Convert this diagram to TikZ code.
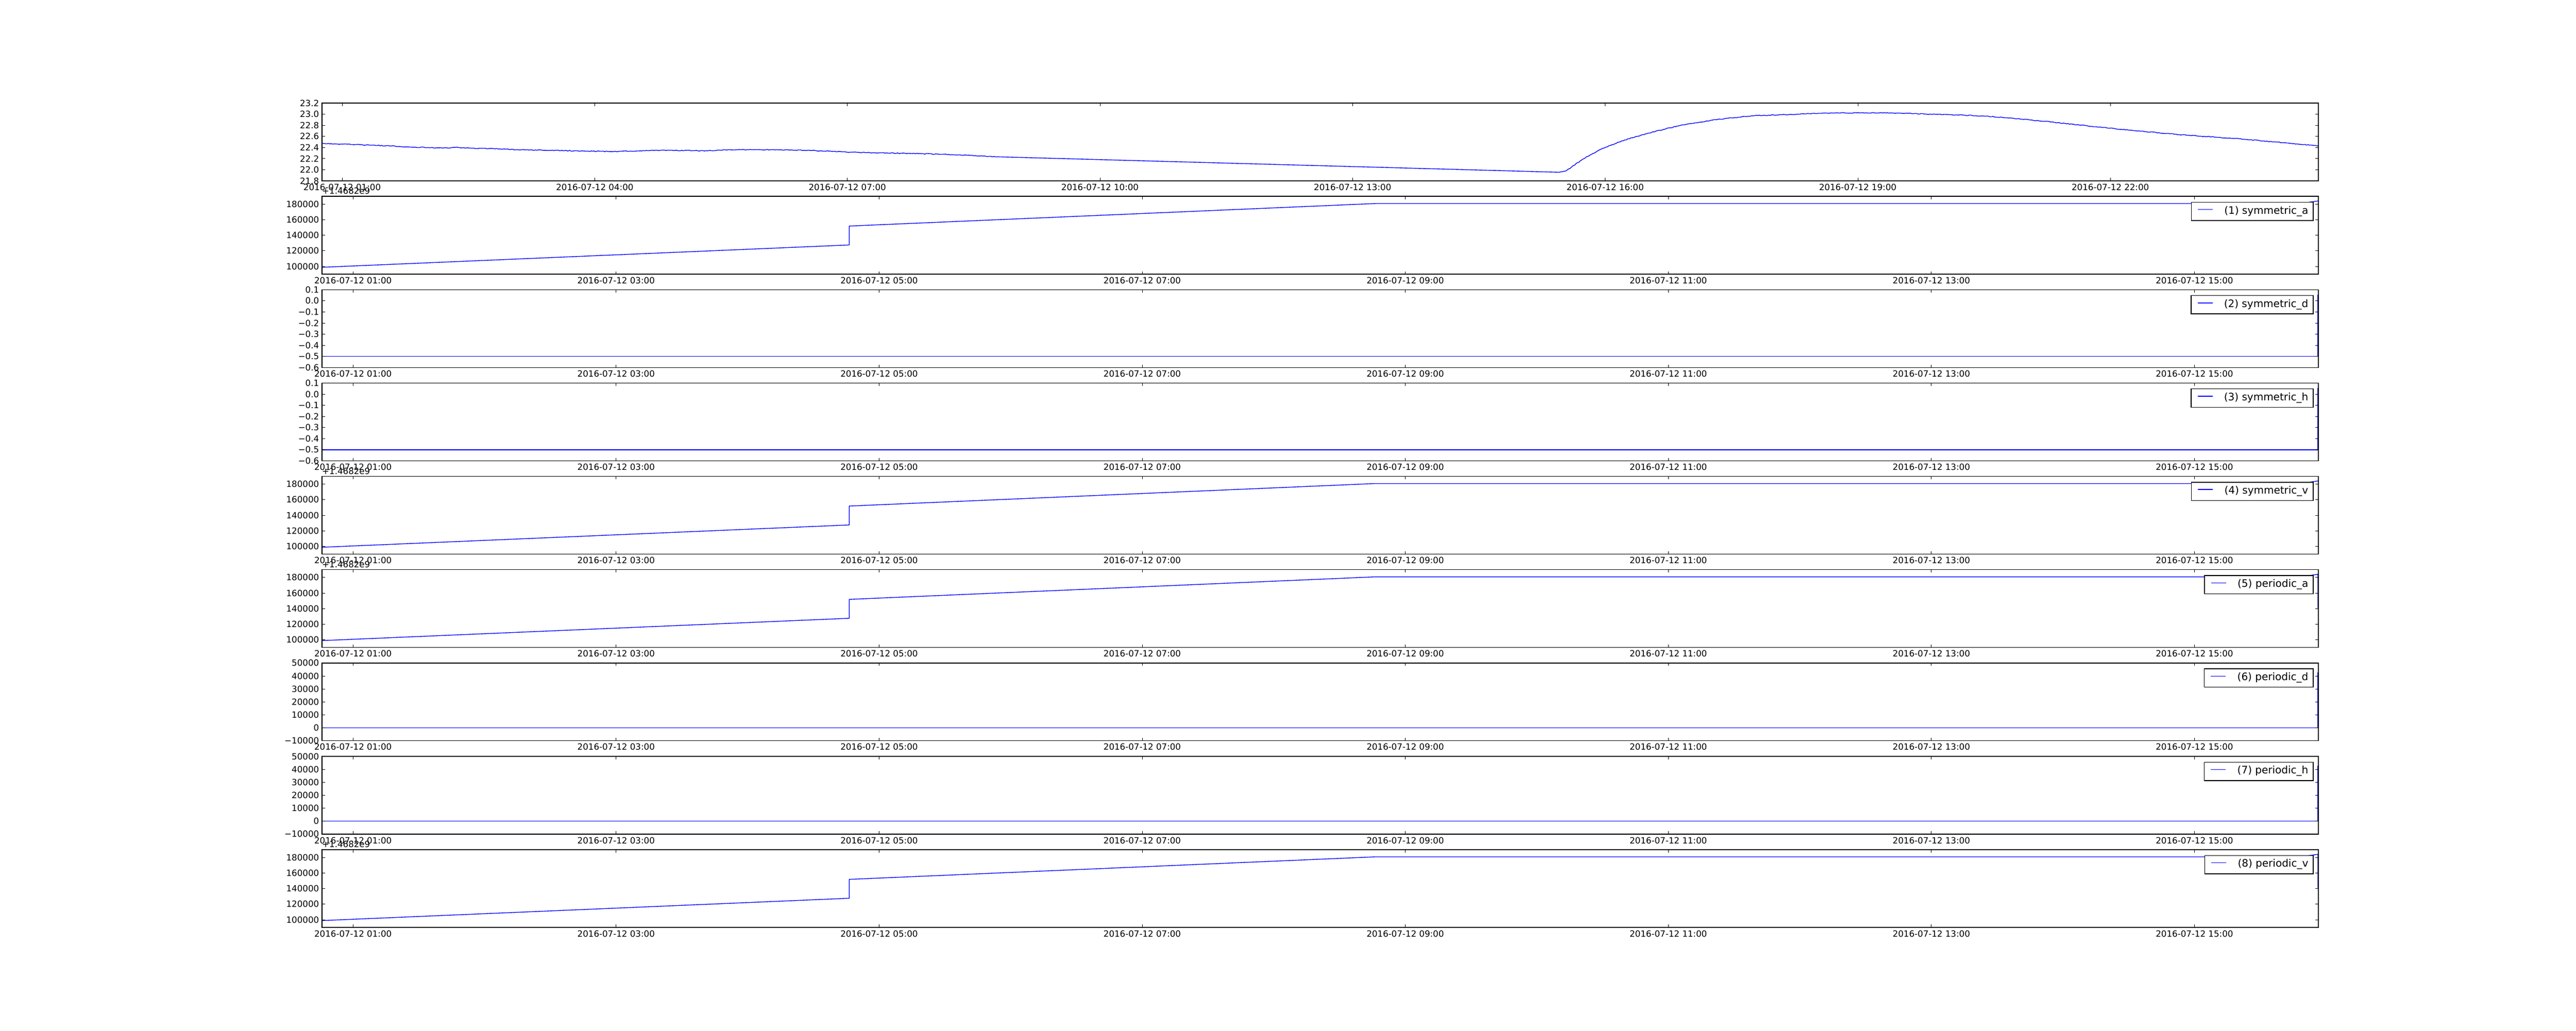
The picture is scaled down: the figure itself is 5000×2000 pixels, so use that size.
\documentclass[tikz,border=0pt]{standalone}
\usepackage{fontspec}
\setmainfont{DejaVu Sans}
\usetikzlibrary{decorations.pathmorphing}
\newcommand\ticksize{\fontsize{16.67}{20}\selectfont}
\newcommand\legsize{\fontsize{20}{24}\selectfont}
\newcommand\setpanel[1]{\def\pn{#1}\pgfmathsetmacro\ptop{200+#1*181.133}\pgfmathsetmacro\pbot{\ptop+150.94}}
\newcommand\frameaxes{\draw[spine] (625,\ptop) rectangle (4500,\pbot);}
\newcommand\xticksA{\foreach \k/\lab in {0/01,1/04,2/07,3/10,4/13,5/16,6/19,7/22}{%
  \pgfmathsetmacro\xx{664.1+\k*490.3}%
  \draw[tickmark] (\xx,\ptop) -- ++(0,5.56) (\xx,\pbot) -- ++(0,-5.56);%
  \node[ticklab,anchor=north] (xl\pn-\k) at (\xx,\pbot+5.56) {2016-07-12 \lab:00};}}
\newcommand\xticksB{\foreach \k/\lab in {0/01,1/03,2/05,3/07,4/09,5/11,6/13,7/15}{%
  \pgfmathsetmacro\xx{685.2+\k*510.6}%
  \draw[tickmark] (\xx,\ptop) -- ++(0,5.56) (\xx,\pbot) -- ++(0,-5.56);%
  \node[ticklab,anchor=north] (xl\pn-\k) at (\xx,\pbot+5.56) {2016-07-12 \lab:00};}}
\newcommand\yticks[3]{\foreach \k/\lab in {#3}{%
  \pgfmathsetmacro\yy{\pbot-#1-\k*#2}%
  \draw[tickmark] (625,\yy) -- ++(5.56,0) (4500,\yy) -- ++(-5.56,0);%
  \node[ticklab,anchor=east] (yl\pn-\k) at (619.44,\yy) {\lab};}}
\newcommand\yticksA{\yticks{15.094}{30.188}{0/100000,1/120000,2/140000,3/160000,4/180000}}
\newcommand\yticksD{\yticks{0}{21.563}{0/−0.6,1/−0.5,2/−0.4,3/−0.3,4/−0.2,5/−0.1,6/0.0,7/0.1}}
\newcommand\yticksP{\yticks{0}{25.157}{0/−10000,1/0,2/10000,3/20000,4/30000,5/40000,6/50000}}
\newcommand\offtext{\node[ticklab,anchor=base west] (off\pn) at (625,\ptop-4.4) {+1.4682e9};}
\newcommand\aline{\draw[dataline] (625,\ptop+137.6) -- (1648.3,\ptop+94.3) -- (1648.3,\ptop+57.6) -- (2669.4,\ptop+13.9) -- (4463,\ptop+13.9) -- (4499,\ptop+9)}
\newcommand\mylegend[1]{%
  \node[legbox,anchor=north east] (lg\pn) at (4490.5,\ptop+10.6) {\hspace*{64pt}#1\hspace*{9.5pt}};%
  \draw[dataline] (lg\pn.north west) ++(13.4,15) -- ++(29,0);}
\begin{document}
\begin{tikzpicture}[x=1pt,y=-1pt,
  spine/.style={draw=black,line width=1.39pt},
  tickmark/.style={draw=black,line width=0.7pt},
  ticklab/.style={inner sep=0pt,font=\ticksize,text=black},
  dataline/.style={draw={rgb,255:red,0;green,0;blue,255},line width=1.39pt,line join=round},
  noisy/.style={decorate,decoration={random steps,segment length=3pt,amplitude=0.7pt}},
  legbox/.style={draw=black,fill=white,line width=1.39pt,inner xsep=0pt,inner ysep=0pt,
    text height=22.6pt,text depth=13pt,font=\legsize,text=black}]
\pgfmathsetseed{7}
\useasboundingbox (0,0) rectangle (5000,2000);
\fill[white] (0,0) rectangle (5000,2000);

% ---- panel 0: temperature
\setpanel{0}
\draw[dataline,noisy] (625.7,278.3) -- (640,279.3) -- (660,279.8) -- (690,280.5) -- (716.7,281.7) -- (750,282.8) -- (790,285.2) -- (830,286.3) -- (870,287.3) -- (883,286.2) -- (916.7,287.7) -- (983,289.3) -- (1000,290.5) -- (1060,291.8) -- (1115,292.7) -- (1150,293.5) -- (1191,294) -- (1240,293) -- (1281,291.7) -- (1340,292.3) -- (1383,292.7) -- (1408,290.7) -- (1460,290.5) -- (1510,290.7) -- (1560,291.8) -- (1612,293.3) -- (1644,295.3) -- (1700,296.5) -- (1765,297.7) -- (1830,299.5) -- (1893,302) -- (1935,304.3);
\draw[dataline] (1935,304.3) -- (3026,334.3) -- (3039.5,331.7);
\draw[dataline,noisy] (3039.5,331.7) -- (3070.5,310) -- (3106.6,290) -- (3148,273.3) -- (3199.6,258.3) -- (3261.6,243.3) -- (3334,231.7) -- (3406,224.3) -- (3478.5,222.3) -- (3520,220) -- (3612.8,219) -- (3674.8,219.3) -- (3757.4,221.7) -- (3850.4,225) -- (3933,231.7) -- (4036,242.7) -- (4139.7,253.3) -- (4243,262.3) -- (4346,269.3) -- (4429,276.7) -- (4499,283.3);
\frameaxes
\xticksA
\yticks{0}{21.563}{0/21.8,1/22.0,2/22.2,3/22.4,4/22.6,5/22.8,6/23.0,7/23.2}

% ---- panel 1
\setpanel{1}
\aline;
\frameaxes \xticksB \yticksA \offtext
\mylegend{(1) symmetric\_a}

% ---- panel 2
\setpanel{2}
\draw[dataline] (625,\ptop+129.4) -- (4499,\ptop+129.4) -- (4499,\ptop+9.6);
\frameaxes \xticksB \yticksD
\mylegend{(2) symmetric\_d}

% ---- panel 3
\setpanel{3}
\draw[dataline] (625,\ptop+129.4) -- (4499,\ptop+129.4) -- (4499,\ptop+9.6);
\frameaxes \xticksB \yticksD
\mylegend{(3) symmetric\_h}

% ---- panel 4
\setpanel{4}
\aline;
\frameaxes \xticksB \yticksA \offtext
\mylegend{(4) symmetric\_v}

% ---- panel 5
\setpanel{5}
\aline -- (4499,\ptop+74.4);
\frameaxes \xticksB \yticksA \offtext
\mylegend{(5) periodic\_a}

% ---- panel 6
\setpanel{6}
\draw[dataline] (625,\ptop+125.8) -- (4499,\ptop+125.8) -- (4499,\ptop+18);
\frameaxes \xticksB \yticksP
\mylegend{(6) periodic\_d}

% ---- panel 7
\setpanel{7}
\draw[dataline] (625,\ptop+125.8) -- (4499,\ptop+125.8) -- (4499,\ptop+18);
\frameaxes \xticksB \yticksP
\mylegend{(7) periodic\_h}

% ---- panel 8
\setpanel{8}
\aline -- (4499,\ptop+74.4);
\frameaxes \xticksB \yticksA \offtext
\mylegend{(8) periodic\_v}
\end{tikzpicture}
\end{document}
